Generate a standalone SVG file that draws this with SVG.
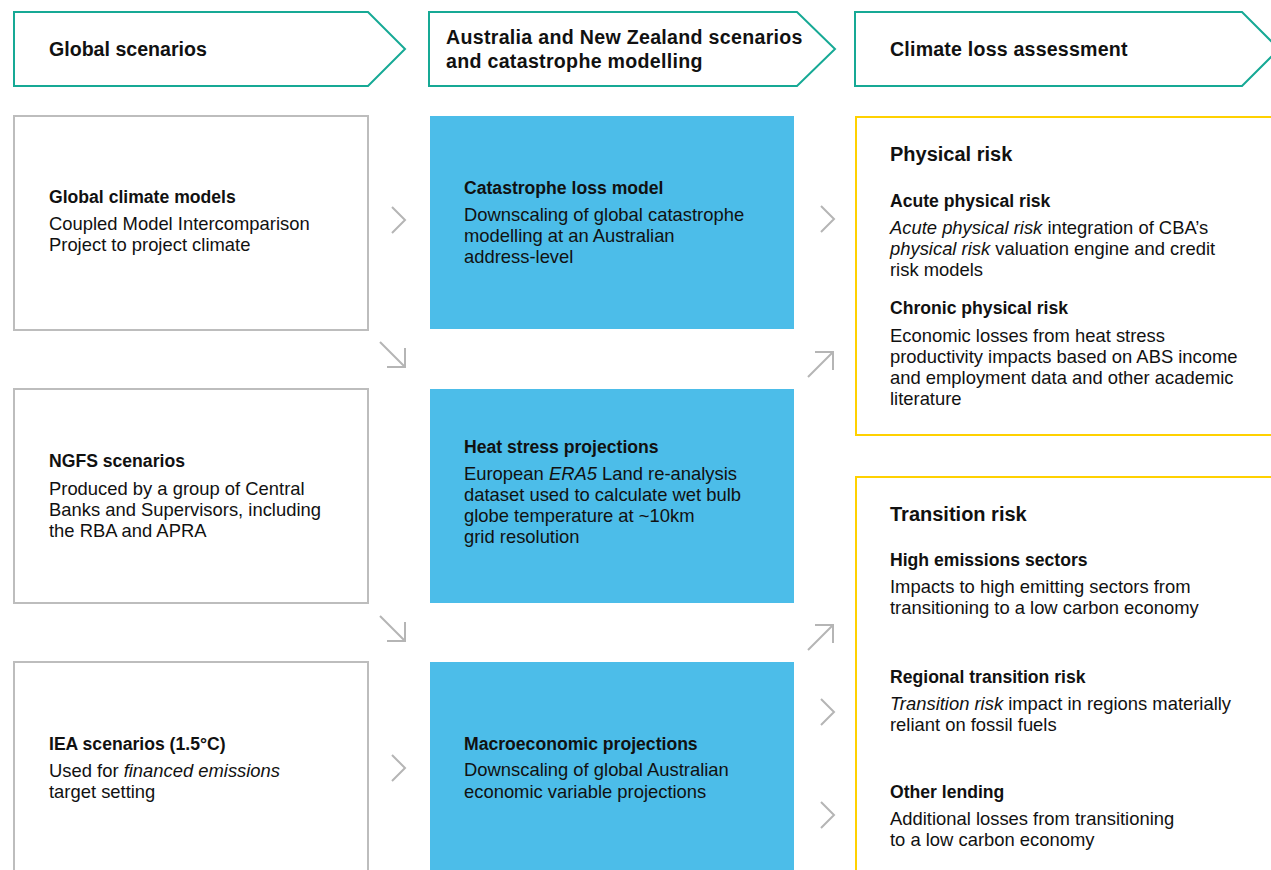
<svg xmlns="http://www.w3.org/2000/svg" width="1271" height="870" viewBox="0 0 1271 870">
<style>
.hdr{fill:#fff;stroke:#16a995;stroke-width:2}
.gbox{fill:#fff;stroke:#bdbdbd;stroke-width:2}
.bbox{fill:#4cbde9}
.ybox{fill:#fff;stroke:#ffd100;stroke-width:2}
text{font-family:"Liberation Sans",Arial,sans-serif;fill:#111}
.h{font-size:19.6px;font-weight:bold}
.t{font-size:17.6px;font-weight:bold}
.b{font-size:18.4px}
.big{font-size:20px;font-weight:bold}
.it{font-style:italic}
.con{fill:none;stroke:#b5b5b5;stroke-width:2}
</style>
<rect width="1271" height="870" fill="#fff"/>

<g id="header-global">
<polygon class="hdr" points="14,12 368,12 405,49 368,86 14,86"/>
<text class="h" x="49" y="56">Global scenarios</text>
</g>
<g id="header-anz">
<polygon class="hdr" points="429,12 797,12 835,49 797,86 429,86"/>
<text class="h" x="446" y="44" letter-spacing="0.3">Australia and New Zealand scenarios</text>
<text class="h" x="446" y="68" letter-spacing="0.3">and catastrophe modelling</text>
</g>
<g id="header-climate">
<polygon class="hdr" points="855,12 1242,12 1279,49 1242,86 855,86"/>
<text class="h" x="890" y="56" letter-spacing="0.2">Climate loss assessment</text>
</g>

<g id="global-climate-models">
<rect class="gbox" x="14" y="116" width="354" height="214"/>
<text class="t" x="49" y="203">Global climate models</text>
<text class="b" x="49" y="230">Coupled Model Intercomparison</text>
<text class="b" x="49" y="251">Project to project climate</text>
</g>
<g id="ngfs-scenarios">
<rect class="gbox" x="14" y="389" width="354" height="214"/>
<text class="t" x="49" y="467">NGFS scenarios</text>
<text class="b" x="49" y="495">Produced by a group of Central</text>
<text class="b" x="49" y="516">Banks and Supervisors, including</text>
<text class="b" x="49" y="537">the RBA and APRA</text>
</g>
<g id="iea-scenarios">
<rect class="gbox" x="14" y="662" width="354" height="230"/>
<text class="t" x="49" y="750">IEA scenarios (1.5°C)</text>
<text class="b" x="49" y="777">Used for <tspan class="it">financed emissions</tspan></text>
<text class="b" x="49" y="798">target setting</text>
</g>

<g id="catastrophe-loss-model">
<rect class="bbox" x="430" y="116" width="364" height="213"/>
<text class="t" x="464" y="194">Catastrophe loss model</text>
<text class="b" x="464" y="221">Downscaling of global catastrophe</text>
<text class="b" x="464" y="242">modelling at an Australian</text>
<text class="b" x="464" y="263">address-level</text>
</g>
<g id="heat-stress-projections">
<rect class="bbox" x="430" y="389" width="364" height="214"/>
<text class="t" x="464" y="453">Heat stress projections</text>
<text class="b" x="464" y="480">European <tspan class="it">ERA5</tspan> Land re-analysis</text>
<text class="b" x="464" y="501">dataset used to calculate wet bulb</text>
<text class="b" x="464" y="522">globe temperature at ~10km</text>
<text class="b" x="464" y="543">grid resolution</text>
</g>
<g id="macroeconomic-projections">
<rect class="bbox" x="430" y="662" width="364" height="230"/>
<text class="t" x="464" y="750">Macroeconomic projections</text>
<text class="b" x="464" y="776">Downscaling of global Australian</text>
<text class="b" x="464" y="798">economic variable projections</text>
</g>

<g id="physical-risk">
<rect class="ybox" x="856" y="117" width="430" height="318"/>
<text class="big" x="890" y="161">Physical risk</text>
<text class="t" x="890" y="207">Acute physical risk</text>
<text class="b" x="890" y="234"><tspan class="it">Acute physical risk</tspan> integration of CBA’s</text>
<text class="b" x="890" y="255"><tspan class="it">physical risk</tspan> valuation engine and credit</text>
<text class="b" x="890" y="276">risk models</text>
<text class="t" x="890" y="314">Chronic physical risk</text>
<text class="b" x="890" y="342">Economic losses from heat stress</text>
<text class="b" x="890" y="363">productivity impacts based on ABS income</text>
<text class="b" x="890" y="384">and employment data and other academic</text>
<text class="b" x="890" y="405">literature</text>
</g>
<g id="transition-risk">
<rect class="ybox" x="856" y="477" width="430" height="420"/>
<text class="big" x="890" y="521">Transition risk</text>
<text class="t" x="890" y="566">High emissions sectors</text>
<text class="b" x="890" y="593">Impacts to high emitting sectors from</text>
<text class="b" x="890" y="614">transitioning to a low carbon economy</text>
<text class="t" x="890" y="683">Regional transition risk</text>
<text class="b" x="890" y="710"><tspan class="it">Transition risk</tspan> impact in regions materially</text>
<text class="b" x="890" y="731">reliant on fossil fuels</text>
<text class="t" x="890" y="798">Other lending</text>
<text class="b" x="890" y="825">Additional losses from transitioning</text>
<text class="b" x="890" y="846">to a low carbon economy</text>
</g>

<g id="connectors" class="con">
<path d="M392,207 L405,220 L392,233"/>
<path d="M392,755 L405,768 L392,781"/>
<path d="M380,342 L405,367 M387,367 L405,367 L405,348"/>
<path d="M380,616 L405,641 M387,641 L405,641 L405,622"/>
<path d="M821,206 L834,219 L821,232"/>
<path d="M808,377 L833,352 M815,352 L833,352 L833,370"/>
<path d="M808,650 L833,625 M815,625 L833,625 L833,643"/>
<path d="M821,699 L834,712 L821,725"/>
<path d="M821,802 L834,815 L821,828"/>
</g>
</svg>
